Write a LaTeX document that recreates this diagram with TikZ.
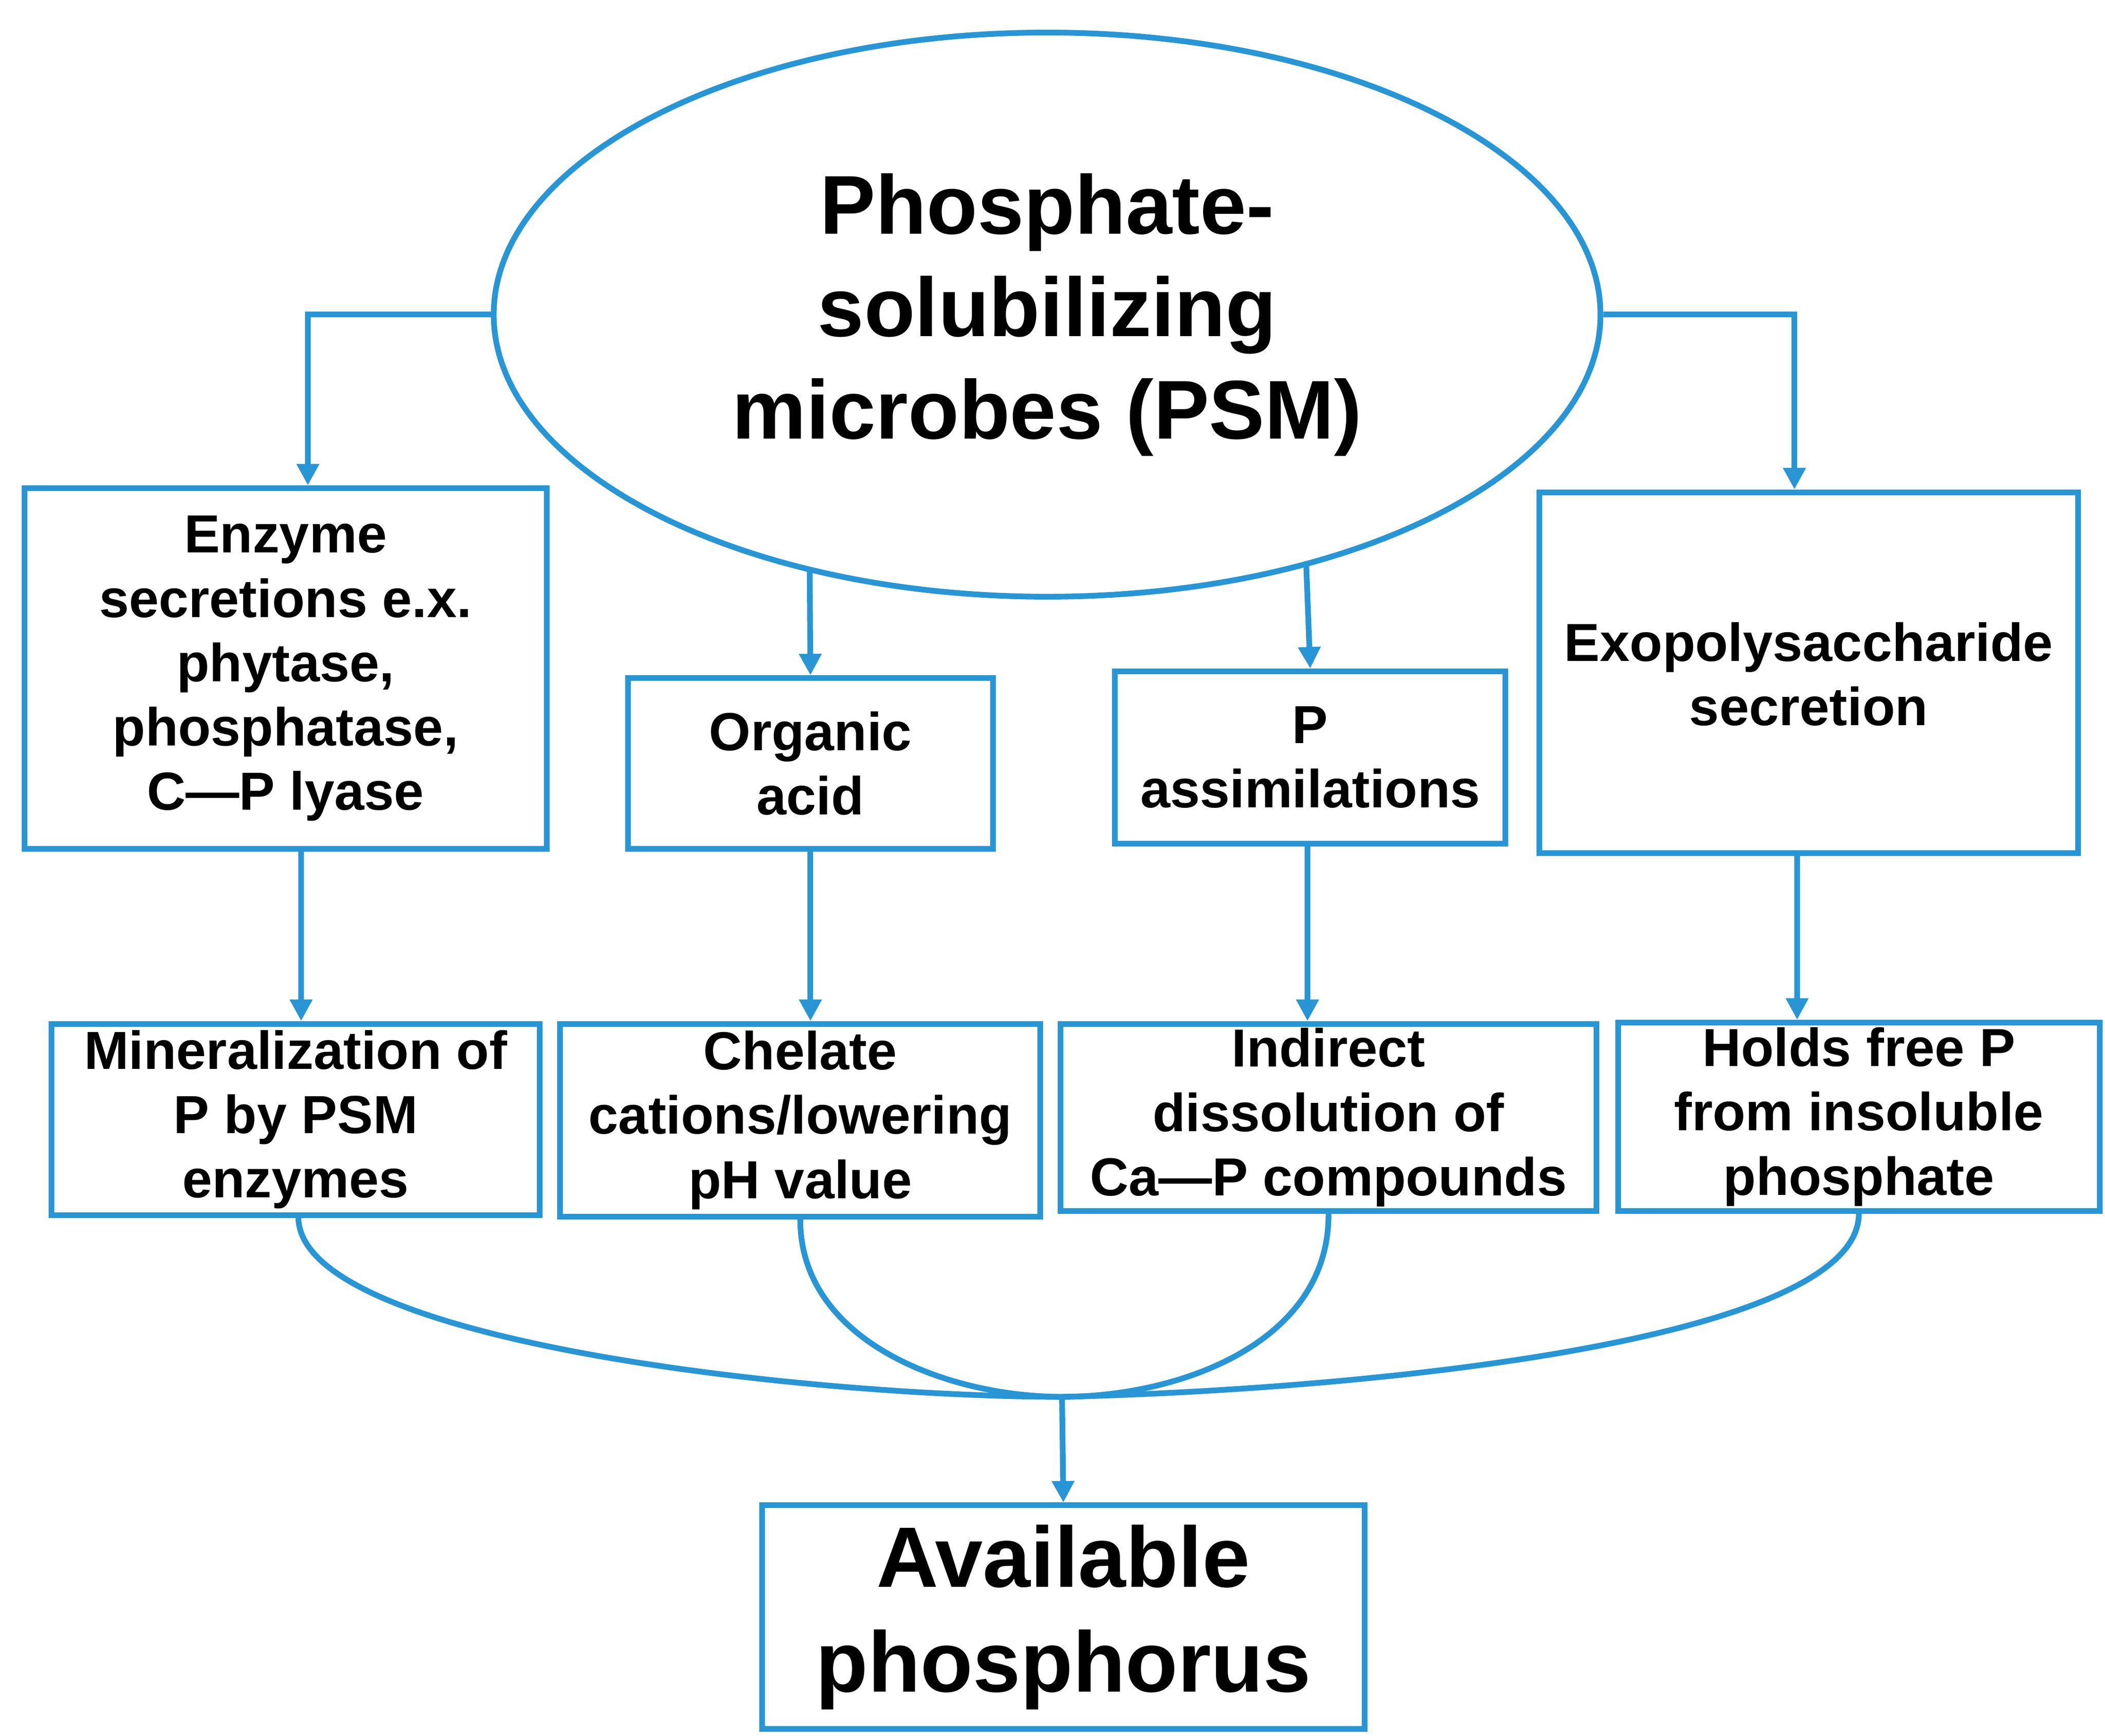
\documentclass[tikz,border=0pt]{standalone}
\usepackage{fontspec}
\setmainfont{Liberation Sans}
\usetikzlibrary{shapes.geometric,arrows.meta}
\definecolor{bl}{RGB}{40,150,212}
\begin{document}
\begin{tikzpicture}[x=0.02cm,y=-0.02cm,
  box/.style={draw=bl,line width=2.4pt,align=center,inner sep=0pt,font=\fontsize{22.5}{27}\selectfont\bfseries},
  ln/.style={draw=bl,line width=2.4pt},
  ar/.style={ln,-{Triangle[length=9pt,width=9pt]}}]
\useasboundingbox (0,0) rectangle (1552,1280);
\node[ellipse,draw=bl,line width=2.4pt,minimum width=816*0.02cm,minimum height=416*0.02cm,align=center,font=\fontsize{35}{43}\selectfont\bfseries] (E) at (772,232) {Phosphate-\\solubilizing\\microbes (PSM)};
\node[box,minimum width=385*0.02cm,minimum height=266*0.02cm] (b1) at (210.5,493) {Enzyme\\secretions e.x.\\phytase,\\phosphatase,\\C---P lyase};
\node[box,minimum width=269*0.02cm,minimum height=126*0.02cm] (b2) at (597.5,563) {Organic\\acid};
\node[box,minimum width=288*0.02cm,minimum height=127*0.02cm] (b3) at (966,558.5) {P\\assimilations};
\node[box,minimum width=397*0.02cm,minimum height=266*0.02cm] (b4) at (1333.5,496) {};
\node[align=center,font=\fontsize{22.5}{27}\selectfont\bfseries] (t4) at (1333.5,497) {Exopolysaccharide\\secretion};
\node[box,minimum width=360*0.02cm,minimum height=141*0.02cm] (c1) at (218,825.5) {Mineralization of\\P by PSM\\enzymes};
\node[box,minimum width=354*0.02cm,minimum height=142*0.02cm] (c2) at (590,826) {Chelate\\cations/lowering\\pH value};
\node[box,minimum width=395*0.02cm,minimum height=138*0.02cm] (c3) at (979.5,824) {Indirect\\dissolution of\\Ca---P compounds};
\node[box,minimum width=355*0.02cm,minimum height=139*0.02cm] (c4) at (1370.5,823.5) {Holds free P\\from insoluble\\phosphate};
\node[box,minimum width=444*0.02cm,minimum height=165*0.02cm,font=\fontsize{36}{44}\selectfont\bfseries] (F) at (784,1192.5) {Available\\phosphorus};
\coordinate (e2) at (597,420);
\coordinate (e3) at (963,415);
\coordinate (m) at (783,1030);
\draw[ar] (E.west) -| ([xshift=16.5*0.02cm]b1.north);
\draw[ar] (E.east) -| ([xshift=-10.5*0.02cm]b4.north);
\draw[ar] (e2) -- (b2.north);
\draw[ar] (e3) -- (b3.north);
\draw[ar] ([xshift=11.5*0.02cm]b1.south) -- ([xshift=4*0.02cm]c1.north);
\draw[ar] (b2.south) -- ([xshift=7.5*0.02cm]c2.north);
\draw[ar] ([xshift=-2*0.02cm]b3.south) -- ([xshift=-15.5*0.02cm]c3.north);
\draw[ar] ([xshift=-8.5*0.02cm]b4.south) -- ([xshift=-45.5*0.02cm]c4.north);
\draw[ln] ([xshift=2*0.02cm]c1.south) .. controls (222,990) and (600,1030) .. (m);
\draw[ln] (c2.south) .. controls (590,990) and (700,1030) .. (m);
\draw[ln] (c3.south) .. controls (980,990) and (870,1030) .. (m);
\draw[ln] (c4.south) .. controls (1370,990) and (1000,1025) .. (m);
\draw[ar] (m) -- (F.north);
\end{tikzpicture}
\end{document}
